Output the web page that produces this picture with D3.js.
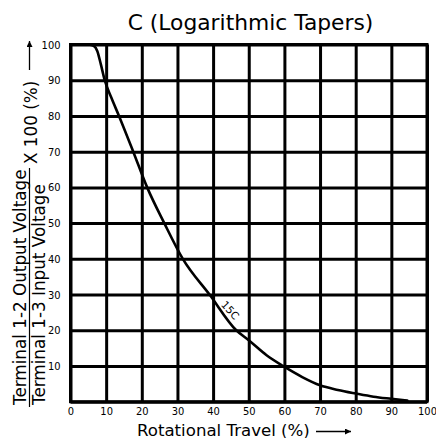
<!DOCTYPE html>
<html>
<head>
<meta charset="utf-8">
<script src="https://cdn.jsdelivr.net/npm/d3@7"></script>
<style>
  html, body { margin: 0; padding: 0; background: #fff; }
  svg { display: block; }
  .lbl { font-family: "DejaVu Sans", Verdana, sans-serif; fill: #000; }
  .tick text { font-family: "Liberation Sans Narrow", "DejaVu Sans Condensed", "Liberation Sans", sans-serif; fill: #000; }
</style>
</head>
<body>
<svg id="chart" width="436" height="438"></svg>
<script>
// ---- data ----
const travel  = [5, 6.5, 7.5, 8.5, 9.6, 11.5, 13.6, 17.6, 21.5, 26.3, 31.5, 39, 46.5, 50, 55, 59.6, 65, 70, 75, 80, 85, 90, 94.5];
const voltage = [100, 99.6, 98.2, 94.5, 90, 85, 80, 70, 60, 50, 40, 30, 20, 17.2, 13, 10, 6.9, 4.6, 3.3, 2.3, 1.4, 0.8, 0.3];
const xTicks = [0, 10, 20, 30, 40, 50, 60, 70, 80, 90, 100];
const yTicks = [10, 20, 30, 40, 50, 60, 70, 80, 90, 100];
const gridY  = [0, 10, 20, 30, 40, 50, 60, 70, 80, 90, 100];
const curveLabel = "15C";
const curveLabelAt = [44.8, 25.6];
const title = "C (Logarithmic Tapers)";
const xTitle = "Rotational Travel (%)";
const yNumer = "Terminal 1-2 Output Voltage";
const yDenom = "Terminal 1-3 Input Voltage";
const yTail = "X 100 (%)";

// ---- layout ----
const svg = d3.select("#chart");
const L = 70.5, R = 427, T = 44.5, B = 401.7;
const x = d3.scaleLinear().domain([0, 100]).range([L, R]);
const y = d3.scaleLinear().domain([0, 100]).range([B, T]);

// grid via axes
const gx = svg.append("g").attr("transform", `translate(0,${B})`)
  .call(d3.axisBottom(x).tickValues(xTicks).tickSize(-(B - T)).tickSizeOuter(0).tickPadding(5));
gx.select(".domain").remove();
gx.selectAll(".tick line").attr("stroke", "#000").attr("stroke-width", 3);
gx.selectAll(".tick text").attr("font-size", 11).attr("dy", "0.72em");

const gy = svg.append("g").attr("transform", `translate(${L},0)`)
  .call(d3.axisLeft(y).tickValues(gridY).tickSize(-(R - L)).tickSizeOuter(0).tickPadding(10)
        .tickFormat(d => yTicks.includes(d) ? d : ""));
gy.select(".domain").remove();
gy.selectAll(".tick line").attr("stroke", "#000").attr("stroke-width", 3);
gy.selectAll(".tick text").attr("font-size", 11);

// frame
svg.append("rect").attr("x", x(0)).attr("y", y(100))
  .attr("width", x(100) - x(0)).attr("height", y(0) - y(100))
  .attr("fill", "none").attr("stroke", "#000").attr("stroke-width", 3);

// curve
const pts = travel.map((t, i) => [t, voltage[i]]);
const line = d3.line().x(d => x(d[0])).y(d => y(d[1])).curve(d3.curveMonotoneX);
svg.append("path").datum(pts).attr("d", line)
  .attr("fill", "none").attr("stroke", "#000").attr("stroke-width", 2.6).attr("stroke-linecap", "round");

// curve label
svg.append("text").attr("class", "lbl")
  .attr("transform", `translate(${x(curveLabelAt[0])},${y(curveLabelAt[1])}) rotate(48)`)
  .attr("text-anchor", "middle").attr("dy", "0.35em").attr("font-size", 10.5)
  .text(curveLabel);

// title
svg.append("text").attr("class", "lbl").attr("x", 250.5).attr("y", 29.5)
  .attr("text-anchor", "middle").attr("font-size", 21.8).text(title);

// x title + arrow
const defs = svg.append("defs");
defs.append("marker").attr("id", "ah").attr("viewBox", "0 0 10 10")
  .attr("refX", 10).attr("refY", 5).attr("markerWidth", 10).attr("markerHeight", 6)
  .attr("markerUnits", "userSpaceOnUse").attr("orient", "auto")
  .append("path").attr("d", "M0,0 L10,5 L0,10 Z").attr("fill", "#000");

svg.append("text").attr("class", "lbl").attr("x", 137).attr("y", 435.5)
  .attr("font-size", 16.6).text(xTitle);
svg.append("line").attr("x1", 316).attr("x2", 351).attr("y1", 431.5).attr("y2", 431.5)
  .attr("stroke", "#000").attr("stroke-width", 1.3).attr("marker-end", "url(#ah)");

// y title (fraction)
const yg = svg.append("g");
yg.append("text").attr("class", "lbl")
  .attr("transform", `translate(26,405) rotate(-90)`).attr("font-size", 16.8).text(yNumer);
yg.append("text").attr("class", "lbl")
  .attr("transform", `translate(45,405) rotate(-90)`).attr("font-size", 16.8).text(yDenom);
yg.append("line").attr("x1", 29.5).attr("x2", 29.5).attr("y1", 407).attr("y2", 168)
  .attr("stroke", "#000").attr("stroke-width", 1.2);
yg.append("text").attr("class", "lbl")
  .attr("transform", `translate(37,164) rotate(-90)`).attr("font-size", 16.8).text(yTail);
yg.append("line").attr("x1", 29.5).attr("x2", 29.5).attr("y1", 70).attr("y2", 41)
  .attr("stroke", "#000").attr("stroke-width", 1.3).attr("marker-end", "url(#ah)");
</script>
</body>
</html>
